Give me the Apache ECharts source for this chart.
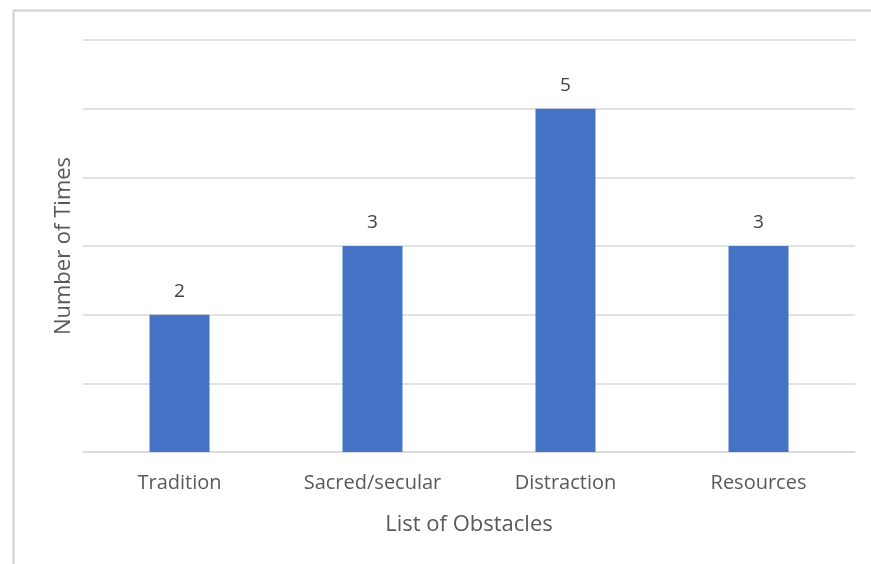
<!DOCTYPE html>
<html>
<head>
<meta charset="utf-8">
<script src="https://cdn.jsdelivr.net/npm/echarts@6/dist/echarts.min.js"></script>
<style>
  html, body { margin: 0; padding: 0; background: #fff; }
  #chart { width: 871px; height: 564px; }
</style>
</head>
<body>
<div id="chart"></div>
<script>
var categories = ['Tradition', 'Sacred/secular', 'Distraction', 'Resources'];
var counts = [2, 3, 5, 3];

var chart = echarts.init(document.getElementById('chart'));
var font = '"Open Sans", "Liberation Sans", sans-serif';
chart.setOption({
  animation: false,
  textStyle: { fontFamily: font },
  graphic: [{
    type: 'rect',
    shape: { x: 13.5, y: 10.5, width: 900, height: 600 },
    style: { fill: 'none', stroke: '#d0d0d0', lineWidth: 2 },
    silent: true
  }],
  grid: { left: 83, right: 16, top: 40, bottom: 112 },
  xAxis: {
    type: 'category',
    data: categories,
    axisLine: { lineStyle: { color: '#d9d9d9', width: 1.5 } },
    axisTick: { show: false },
    axisLabel: { color: '#595959', fontSize: 20, margin: 21, fontFamily: font },
    name: 'List of Obstacles',
    nameLocation: 'middle',
    nameGap: 62,
    nameTextStyle: { color: '#595959', fontSize: 22, fontFamily: font }
  },
  yAxis: {
    type: 'value',
    min: 0,
    max: 6,
    interval: 1,
    axisLine: { show: false },
    axisTick: { show: false },
    axisLabel: { show: false },
    splitLine: { lineStyle: { color: '#d9d9d9', width: 1.5 } },
    name: 'Number of Times',
    nameLocation: 'middle',
    nameGap: 8,
    nameTextStyle: { color: '#595959', fontSize: 22, fontFamily: font }
  },
  series: [{
    type: 'bar',
    data: counts,
    barWidth: 60,
    itemStyle: { color: '#4472c4' },
    label: {
      show: true,
      position: 'top',
      distance: 14,
      color: '#404040',
      fontSize: 19,
      fontFamily: font
    }
  }]
});
</script>
</body>
</html>
